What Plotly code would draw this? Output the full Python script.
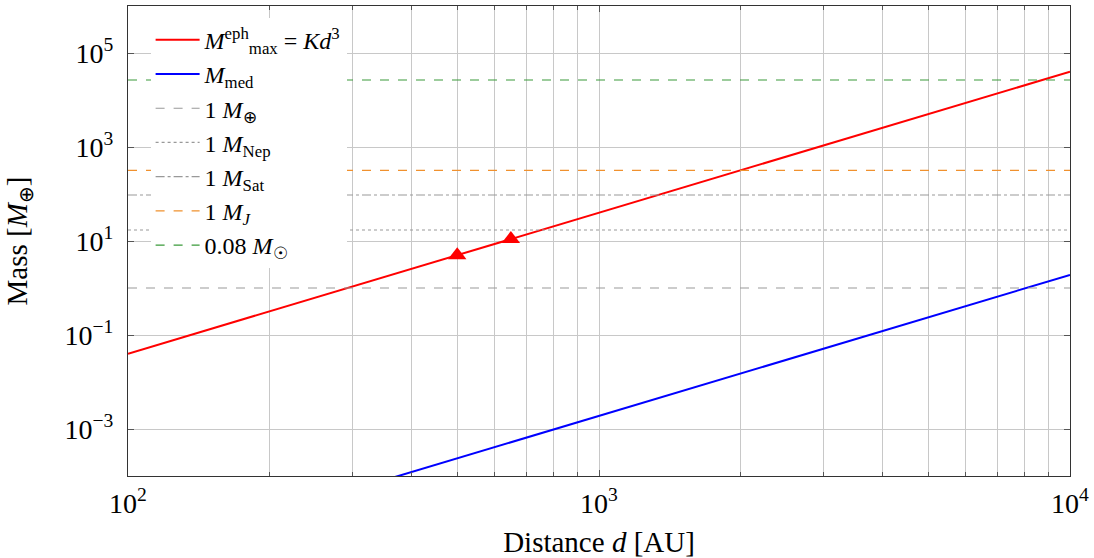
import plotly.graph_objects as go

# ---- data ----
d_line = [100, 1000, 10000]            # distance [AU]
m_eph_max = [0.04, 40.0, 40000.0]      # M_max^eph = K d^3  [M_earth]
m_med = [1.9e-6, 1.9e-3, 1.9]          # M_med [M_earth]
d_points = [500, 650]                  # marked distances
m_points = [5.0, 11.0]                 # marked masses
ref_names = ["1 <i>M</i><sub>⊕</sub>", "1 <i>M</i><sub>Nep</sub>", "1 <i>M</i><sub>Sat</sub>",
             "1 <i>M</i><sub><i>J</i></sub>", "0.08 <i>M</i><sub>☉</sub>"]
ref_masses = [1.0, 17.15, 95.16, 317.8, 26640.0]
ref_colors = ["#999999", "#999999", "#999999", "#f0912e", "#3a9a3a"]
ref_dashes = ["dash", "dot", "dashdot", "dash", "dash"]
x_range = [100, 10000]
x_ticks = [100, 1000, 10000]
x_tick_text = ["10<sup>2</sup>", "10<sup>3</sup>", "10<sup>4</sup>"]
x_minor = [200, 300, 400, 500, 600, 700, 800, 900,
           2000, 3000, 4000, 5000, 6000, 7000, 8000, 9000]
y_ticks = [1e-3, 1e-1, 1e1, 1e3, 1e5]
y_tick_text = ["10<sup>−3</sup>", "10<sup>−1</sup>", "10<sup>1</sup>", "10<sup>3</sup>", "10<sup>5</sup>"]

FONT = "Liberation Serif"

fig = go.Figure()
fig.add_trace(go.Scatter(x=d_line, y=m_eph_max, mode="lines",
                         line=dict(color="#ff0000", width=2),
                         name="<i>M</i><sup>eph</sup><sub>max</sub> = <i>Kd</i><sup>3</sup>"))
fig.add_trace(go.Scatter(x=d_line, y=m_med, mode="lines",
                         line=dict(color="#0000ff", width=2),
                         name="<i>M</i><sub>med</sub>"))
for nm, mv, c, ds in zip(ref_names, ref_masses, ref_colors, ref_dashes):
    fig.add_trace(go.Scatter(x=x_range, y=[mv, mv], mode="lines",
                             line=dict(color=c, width=1.2, dash=ds), name=nm))
fig.add_trace(go.Scatter(x=d_points, y=m_points, mode="markers",
                         marker=dict(symbol="triangle-up", size=16, color="#ff0000"),
                         showlegend=False))

axis_common = dict(showline=True, linecolor="#333333", linewidth=1.2, mirror="allticks",
                   ticks="inside", ticklen=6, tickcolor="#555555",
                   gridcolor="#c8c8c8", gridwidth=1, zeroline=False, automargin=False,
                   tickfont=dict(family=FONT, size=28, color="black"))

fig.update_xaxes(type="log", range=[2, 4], tickvals=x_ticks, ticktext=x_tick_text,
                 minor=dict(tickvals=x_minor, showgrid=True, gridcolor="#c8c8c8",
                            ticks="inside", ticklen=4, tickcolor="#555555"),
                 ticklabelstandoff=2,
                 title=dict(text="Distance <i>d</i> [AU]", font=dict(family=FONT, size=29, color="black"),
                            standoff=14),
                 **axis_common)
fig.update_yaxes(type="log", range=[-4, 6], tickvals=y_ticks, ticktext=y_tick_text,
                 ticklabelstandoff=8,
                 title=dict(text="Mass [<i>M</i><sub>⊕</sub>]", font=dict(family=FONT, size=29, color="black"),
                            standoff=28),
                 **axis_common)

fig.update_layout(
    width=1094, height=558,
    margin=dict(l=128, r=24, t=6, b=82),
    plot_bgcolor="white", paper_bgcolor="white",
    font=dict(family=FONT, size=26, color="black"),
    legend=dict(x=0.024, y=0.975, xanchor="left", yanchor="top",
                bgcolor="white", borderwidth=0,
                font=dict(family=FONT, size=24, color="black"),
                itemwidth=44),
)

fig.write_html("out.html")
